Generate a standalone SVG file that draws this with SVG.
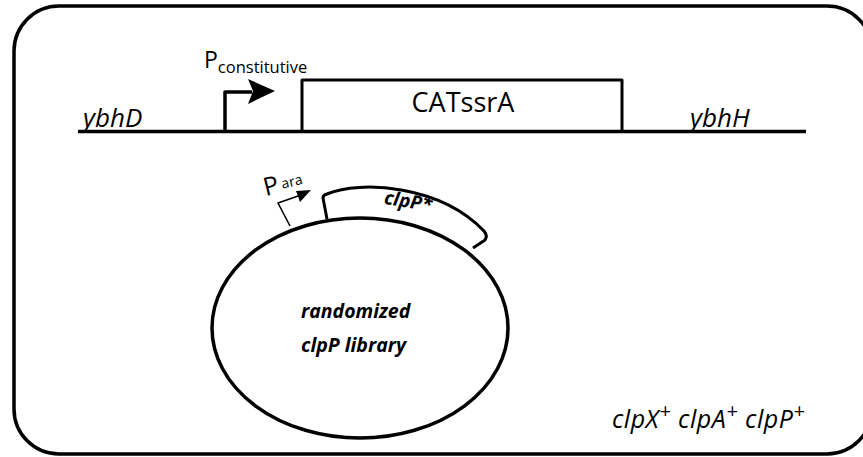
<svg xmlns="http://www.w3.org/2000/svg" width="863" height="457" viewBox="0 0 863 457">
  <style>
    .ln { fill: none; stroke: #000; stroke-linecap: butt; stroke-linejoin: round; }
    .t { font-family: "Open Sans", "Liberation Sans", sans-serif; fill: #000; }
    .it { font-style: italic; }
    .bi { font-style: italic; font-weight: bold; }
  </style>
  <rect width="863" height="457" fill="#fff"/>

  <!-- outer frame -->
  <rect id="frame" x="14" y="6" width="858" height="448" rx="45" ry="45" class="ln" stroke-width="3.5"/>

  <!-- chromosome locus -->
  <g id="chromosome">
    <line x1="78" y1="131.5" x2="806" y2="131.5" class="ln" stroke-width="3.5"/>
    <text x="83" y="127" class="t it" font-size="26" font-weight="500">ybhD</text>
    <text x="690" y="127" class="t it" font-size="26" font-weight="500">ybhH</text>
  </g>

  <g id="cat-ssrA">
    <polyline points="302,131 302,80 622,80 622,131" class="ln" stroke-width="3"/>
    <text x="463" y="112" class="t" font-size="27" font-weight="500" text-anchor="middle">CATssrA</text>
  </g>

  <g id="p-constitutive">
    <polyline points="225,131 225,92 252,92" class="ln" stroke-width="3.5"/>
    <polygon points="248,79 275,91 248,104 253,91" fill="#000"/>
    <text x="204" y="68" class="t" font-size="23" font-weight="500">P<tspan font-size="16.5" dy="5">constitutive</tspan></text>
  </g>

  <!-- plasmid -->
  <g id="plasmid">
    <ellipse cx="360" cy="328" rx="148" ry="110" class="ln" stroke-width="3.5"/>
    <text x="301" y="318" class="t bi" font-size="19.5">randomized</text>
    <text x="301" y="352" class="t bi" font-size="19.5">clpP library</text>
  </g>

  <g id="clpP-star">
    <path d="M327,219 L323,198 Q323,195 327,194 C360,180 440,185 484,231 Q488,236 485,240 L473,248" class="ln" stroke-width="3"/>
    <text x="384" y="208" class="t bi" font-size="19" transform="rotate(9 410 203)">clpP*</text>
  </g>

  <g id="p-ara">
    <polyline points="290,226 278,203 301,195" class="ln" stroke-width="1.6"/>
    <polygon points="296,191 311,190 300,202" fill="#000"/>
    <g transform="rotate(-14 285 182)">
      <text x="263" y="191" class="t" font-size="25">P<tspan font-size="14" dx="3" dy="-3">ara</tspan></text>
    </g>
  </g>

  <g id="genotype">
    <text x="612" y="428" class="t it" font-size="25" letter-spacing="0.5">clpX<tspan font-size="20" dy="-10">+</tspan><tspan dy="10"> clpA</tspan><tspan font-size="20" dy="-10">+</tspan><tspan dy="10"> clpP</tspan><tspan font-size="20" dy="-10">+</tspan></text>
  </g>
</svg>
